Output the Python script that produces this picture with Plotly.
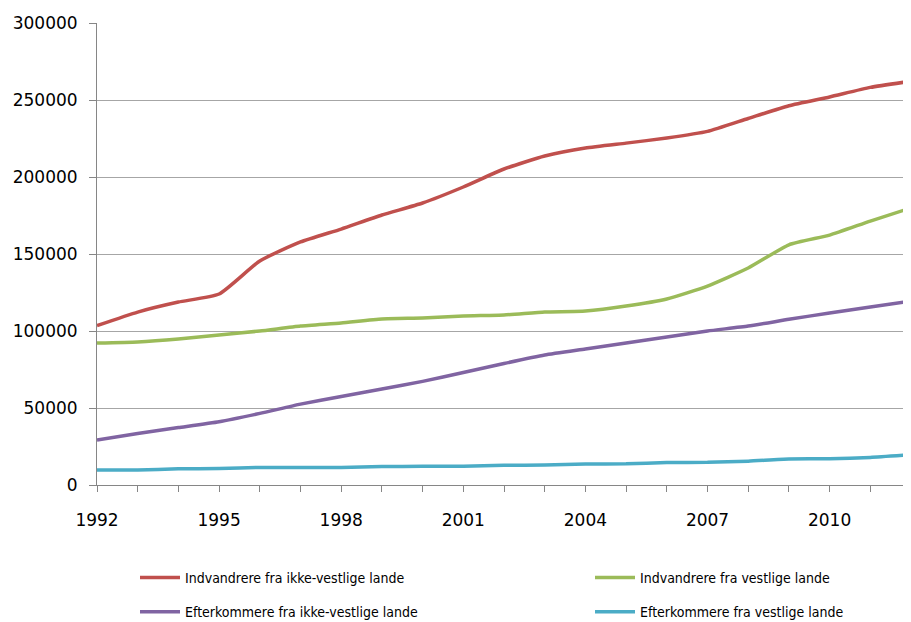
import plotly.graph_objects as go

years = list(range(1992, 2013))
indv_ikke_vest = [103500, 112300, 118800, 124000, 145500, 157800, 166200, 175300, 183100, 193500,
                  205200, 213600, 218800, 222000, 225300, 229600, 238000, 246300, 252000, 258200, 262200]
indv_vest = [92200, 92900, 94800, 97400, 100000, 103200, 105200, 107800, 108400, 109700,
             110400, 112300, 113000, 116200, 120800, 129200, 140900, 156000, 162300, 171400, 179900]
efter_ikke_vest = [29200, 33500, 37300, 41100, 46500, 52500, 57500, 62300, 67300, 73000,
                   78900, 84400, 88300, 92200, 96100, 100000, 103200, 107600, 111700, 115600, 119500]
efter_vest = [9700, 9800, 10500, 10700, 11400, 11400, 11400, 12000, 12100, 12200,
              12800, 13000, 13600, 13800, 14600, 14700, 15500, 16900, 17000, 17900, 19600]

names = ["Indvandrere fra ikke-vestlige lande", "Indvandrere fra vestlige lande",
         "Efterkommere fra ikke-vestlige lande", "Efterkommere fra vestlige lande"]
series = [indv_ikke_vest, indv_vest, efter_ikke_vest, efter_vest]
colors = ["#C0504D", "#9BBB59", "#8064A2", "#4BACC6"]
legends = ["legend", "legend2", "legend", "legend2"]

tick_years = years
tick_text = [str(y) if (y - 1992) % 3 == 0 else "" for y in years]
y_ticks = [0, 50000, 100000, 150000, 200000, 250000, 300000]
y_text = [str(v) for v in y_ticks]

fig = go.Figure()
for i, (n, s, c, lg) in enumerate(zip(names, series, colors, legends)):
    fig.add_trace(go.Scatter(x=years, y=s, name=n, mode="lines",
                             line=dict(color=c, width=3.5, shape="spline", smoothing=0.5),
                             legend=lg, legendgroup=str(i)))

legend_font = dict(family="DejaVu Sans Condensed, Liberation Sans Narrow, Liberation Sans", size=14, color="#000000")
fig.update_layout(
    width=911, height=622,
    margin=dict(l=89, r=8, t=15, b=145, autoexpand=False),
    plot_bgcolor="white", paper_bgcolor="white",
    font=dict(family="DejaVu Sans", size=17, color="#000000"),
    xaxis=dict(range=[1992, 2012], tickmode="array", tickvals=tick_years, ticktext=tick_text,
               showgrid=False, showline=True, linecolor="#868686", linewidth=1,
               ticks="outside", ticklen=6, tickcolor="#868686", tickwidth=1,
               ticklabelstandoff=14, zeroline=False, tickangle=0),
    yaxis=dict(range=[0, 300000], tickmode="array", tickvals=y_ticks, ticktext=y_text,
               showgrid=True, gridcolor="#a6a6a6", gridwidth=1,
               showline=True, linecolor="#868686", linewidth=1,
               ticks="outside", ticklen=7, tickcolor="#868686",
               zeroline=False, ticklabelstandoff=8),
    legend=dict(xref="container", yref="container", x=127/911, y=1-554/622,
                xanchor="left", yanchor="top", font=legend_font, tracegroupgap=13,
                itemwidth=40, bgcolor="rgba(0,0,0,0)"),
    legend2=dict(xref="container", yref="container", x=582/911, y=1-554/622,
                 xanchor="left", yanchor="top", font=legend_font, tracegroupgap=13,
                 itemwidth=40, bgcolor="rgba(0,0,0,0)"),
)
fig.write_html("out.html")
